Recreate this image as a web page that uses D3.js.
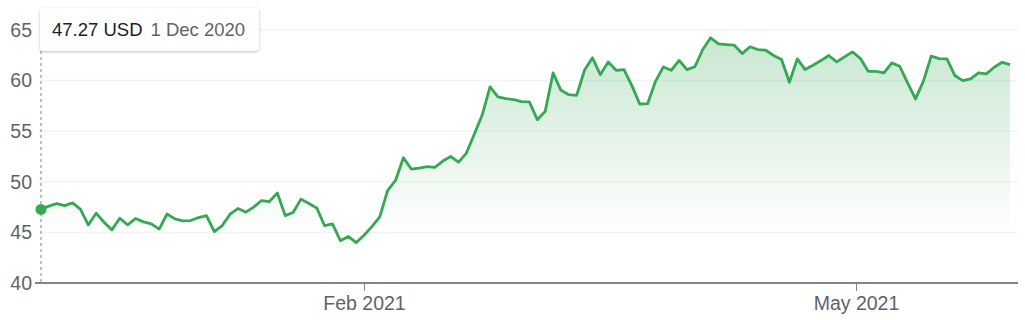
<html>
<head>
<script src="https://cdn.jsdelivr.net/npm/d3@7"></script>
<style>
  body { margin: 0; background: #fff; font-family: Arial, "Liberation Sans", sans-serif; }
  .tip { position: absolute; left: 40px; top: 8px; width: 219px; height: 43px; background: #fff;
         border-radius: 3px; box-shadow: 0 1px 3px rgba(60,64,67,0.35); box-sizing: border-box;
         padding-left: 12px; line-height: 43px; font-size: 18.5px; white-space: nowrap; }
  .tip .price { color: #202124; }
  .tip .date { color: #5f6368; margin-left: 8px; }
</style>
</head>
<body>
<svg width="1025" height="320"></svg>
<div class="tip"><span class="price">47.27 USD</span><span class="date">1 Dec 2020</span></div>
<script>
// closing prices, one per trading day from 1 Dec 2020
var prices = [
  47.27, 47.6, 47.85, 47.65, 47.92, 47.3, 45.74, 46.9, 46.0, 45.25,
  46.4, 45.74, 46.37, 46.04, 45.84, 45.33, 46.82, 46.34, 46.14, 46.17,
  46.47, 46.66, 45.08, 45.67, 46.8, 47.36, 47.0, 47.5, 48.15, 48.05,
  48.9, 46.66, 46.96, 48.29, 47.85, 47.42, 45.66, 45.85, 44.18, 44.6,
  43.99, 44.72, 45.57, 46.53, 49.14, 50.13, 52.38, 51.26, 51.35, 51.49,
  51.42, 52.05, 52.5, 51.95, 52.84, 54.7, 56.6, 59.38, 58.39, 58.22,
  58.12, 57.92, 57.89, 56.14, 56.96, 60.76, 59.04, 58.61, 58.55, 61.05,
  62.25, 60.59, 61.85, 61.02, 61.09, 59.5, 57.69, 57.72, 59.93, 61.35,
  61.02, 62.0, 61.09, 61.37, 63.07, 64.23, 63.63, 63.56, 63.5, 62.67,
  63.34, 63.07, 63.0, 62.48, 62.08, 59.83, 62.15, 61.09, 61.52, 61.98,
  62.48, 61.85, 62.35, 62.84, 62.2, 60.92, 60.92, 60.76, 61.75, 61.42,
  59.77, 58.19, 59.93, 62.41, 62.18, 62.15, 60.5, 60.0, 60.17, 60.76,
  60.66, 61.32, 61.81, 61.58
];
var yTicks = [40, 45, 50, 55, 60, 65];
// month starts, given as trading-day position (1 May falls between 30 Apr and 3 May)
var xTickPos = [41, 103.45];
var xTickLabels = ["Feb 2021", "May 2021"];

var svg = d3.select("svg");
var green = "#34a853";

var x = d3.scaleLinear().domain([0, prices.length - 1]).range([41, 1010]);
var y = d3.scaleLinear().domain([40, 65]).range([283, 30]);

var defs = svg.append("defs");
var grad = defs.append("linearGradient").attr("id", "fade")
  .attr("gradientUnits", "userSpaceOnUse")
  .attr("x1", 0).attr("x2", 0).attr("y1", y(65)).attr("y2", y(45));
grad.append("stop").attr("offset", "0%").attr("stop-color", green).attr("stop-opacity", 0.28);
grad.append("stop").attr("offset", "100%").attr("stop-color", green).attr("stop-opacity", 0);

// grid lines
svg.append("g")
  .selectAll("line")
  .data(yTicks.slice(1))
  .enter().append("line")
  .attr("x1", 38).attr("x2", 1018)
  .attr("y1", function (d) { return y(d); })
  .attr("y2", function (d) { return y(d); })
  .attr("stroke", "#f1f3f4").attr("stroke-width", 1.5);

// y labels
var yAxis = svg.append("g")
  .attr("transform", "translate(36,0)")
  .call(d3.axisLeft(y).tickValues(yTicks).tickSize(0).tickPadding(4));
yAxis.select(".domain").remove();
yAxis.selectAll("text")
  .attr("font-family", "Arial, 'Liberation Sans', sans-serif")
  .attr("font-size", 19.5).attr("fill", "#5f6368");

// area + line
svg.append("path")
  .datum(prices)
  .attr("fill", "url(#fade)")
  .attr("d", d3.area()
    .x(function (d, i) { return x(i); })
    .y0(y(40))
    .y1(function (d) { return y(d); }));

svg.append("path")
  .datum(prices)
  .attr("fill", "none")
  .attr("stroke", green)
  .attr("stroke-width", 2.8)
  .attr("stroke-linejoin", "round")
  .attr("d", d3.line()
    .x(function (d, i) { return x(i); })
    .y(function (d) { return y(d); }));

// x axis
var xAxis = svg.append("g")
  .attr("transform", "translate(0," + y(40) + ")")
  .call(d3.axisBottom(x).tickValues(xTickPos)
    .tickFormat(function (d, i) { return xTickLabels[i]; })
    .tickSize(8).tickPadding(5).tickSizeOuter(0));
xAxis.select(".domain").attr("d", "M35,0H1018").attr("stroke", "#80868b").attr("stroke-width", 2);
xAxis.selectAll(".tick line").attr("stroke", "#80868b");
xAxis.selectAll("text")
  .attr("font-family", "Arial, 'Liberation Sans', sans-serif")
  .attr("font-size", 19.5).attr("fill", "#5f6368");

// hover marker
svg.append("line")
  .attr("x1", x(0)).attr("x2", x(0))
  .attr("y1", 51).attr("y2", y(40))
  .attr("stroke", "#80868b").attr("stroke-width", 1)
  .attr("stroke-dasharray", "3,3");
svg.append("circle")
  .attr("cx", x(0)).attr("cy", y(prices[0]))
  .attr("r", 5.5).attr("fill", green);
</script>
</body>
</html>
